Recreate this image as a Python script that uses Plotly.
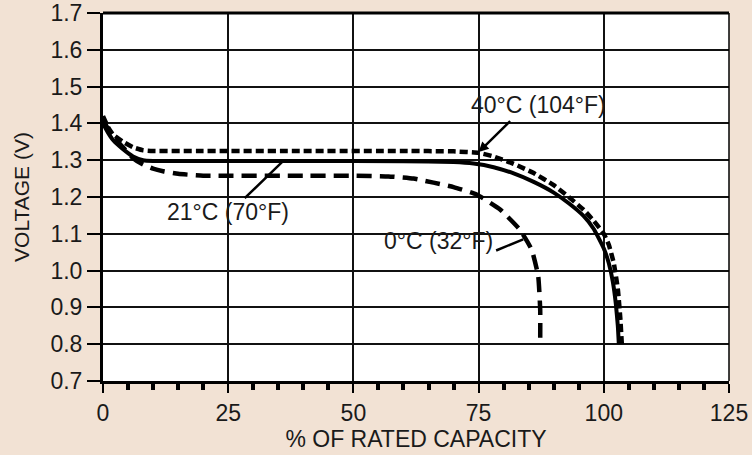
import plotly.graph_objects as go

# ---- data ----
x_40c = [0, 1, 2, 4, 6, 8, 10, 20, 40, 60, 70, 75, 78, 82, 86, 90, 93, 96, 98, 100, 101, 102, 102.8, 103.3, 103.6]
v_40c = [1.42, 1.39, 1.37, 1.35, 1.335, 1.327, 1.325, 1.325, 1.325, 1.325, 1.324, 1.32, 1.31, 1.29, 1.265,
         1.232, 1.2, 1.165, 1.135, 1.1, 1.07, 1.02, 0.95, 0.87, 0.80]

x_21c = [0, 1, 2, 4, 6, 8, 10, 20, 40, 60, 70, 74, 78, 82, 86, 90, 93, 96, 98, 100, 101, 101.8, 102.4, 102.8, 103]
v_21c = [1.40, 1.375, 1.355, 1.33, 1.31, 1.30, 1.298, 1.298, 1.298, 1.297, 1.295, 1.291, 1.281, 1.264, 1.241,
         1.212, 1.183, 1.148, 1.113, 1.06, 1.02, 0.97, 0.91, 0.85, 0.80]

x_0c = [0, 1, 2, 4, 6, 8, 10, 12, 15, 20, 40, 50, 57, 62, 66, 70, 74.6, 79.3, 83.2, 85.6, 86.9, 87.3, 87.3]
v_0c = [1.41, 1.385, 1.365, 1.335, 1.305, 1.288, 1.277, 1.27, 1.263, 1.258, 1.258, 1.258, 1.256, 1.25,
        1.239, 1.227, 1.207, 1.166, 1.112, 1.057, 0.985, 0.894, 0.80]

labels = ["40°C (104°F)", "21°C (70°F)", "0°C (32°F)"]

FONT = "Liberation Sans, Arial, sans-serif"
INK = "#1a1a1a"
BG = "#F2E2D4"

fig = go.Figure()
fig.add_trace(go.Scatter(x=x_40c, y=v_40c, mode="lines", name=labels[0],
                         line=dict(color="black", width=4.5, dash="8px,4px", shape="spline", smoothing=0.4)))
fig.add_trace(go.Scatter(x=x_21c, y=v_21c, mode="lines", name=labels[1],
                         line=dict(color="black", width=4, shape="spline", smoothing=0.4)))
fig.add_trace(go.Scatter(x=x_0c, y=v_0c, mode="lines", name=labels[2],
                         line=dict(color="black", width=4.5, dash="15px,8px", shape="spline", smoothing=0.4)))
# invisible trace so the minor-tick overlay axis is drawn
fig.add_trace(go.Scatter(x=[0], y=[0.7], xaxis="x2", mode="markers", marker=dict(opacity=0),
                         hoverinfo="skip", showlegend=False))

# leader lines (empty-text arrows) and labels
leaders = [
    dict(x=75, y=1.322, ax=81.6, ay=1.41, head=2),
    dict(x=36, y=1.298, ax=28, ay=1.193, head=0),
    dict(x=83.9, y=1.085, ax=78.2, ay=1.053, head=0),
]
for ld in leaders:
    fig.add_annotation(x=ld["x"], y=ld["y"], ax=ld["ax"], ay=ld["ay"], axref="x", ayref="y",
                       text="", showarrow=True, arrowhead=ld["head"], arrowsize=0.8,
                       arrowwidth=2.5, arrowcolor="black")

label_pos = [(87, 1.45), (25, 1.16), (67, 1.08)]
for t, (lx, ly) in zip(labels, label_pos):
    fig.add_annotation(x=lx, y=ly, text=t, showarrow=False,
                       font=dict(family=FONT, size=23, color=INK), bgcolor="rgba(0,0,0,0)")

# frame: top and right borders
fig.add_shape(type="line", xref="paper", yref="paper", x0=0, x1=1, y0=1, y1=1,
              line=dict(color="black", width=3))
fig.add_shape(type="line", xref="paper", yref="paper", x0=1, x1=1, y0=0, y1=1,
              line=dict(color="black", width=1.5))

fig.update_layout(
    width=752, height=455,
    margin=dict(l=103, r=23, t=13, b=74),
    paper_bgcolor=BG, plot_bgcolor="white",
    showlegend=False,
    font=dict(family=FONT, size=23, color=INK),
    xaxis=dict(
        range=[0, 125], tickmode="linear", tick0=0, dtick=25,
        showgrid=True, gridcolor="#111", gridwidth=1.8,
        showline=True, linecolor="black", linewidth=3,
        ticks="outside", ticklen=9, tickwidth=1.5, tickcolor="black",
        zeroline=False, automargin=False,
        title=dict(text="% OF RATED CAPACITY", font=dict(size=23), standoff=4),
        tickfont=dict(size=23),
    ),
    xaxis2=dict(
        range=[0, 125], overlaying="x", side="bottom", anchor="y",
        tickmode="array", tickvals=[v for v in range(5, 125, 5) if v % 25 != 0],
        showticklabels=False, showgrid=False, zeroline=False, showline=False,
        ticks="outside", ticklen=8, tickwidth=3.5, tickcolor="black", automargin=False,
    ),
    yaxis=dict(
        range=[0.7, 1.7], tickmode="linear", tick0=0.7, dtick=0.1, tickformat=".1f",
        showgrid=True, gridcolor="#111", gridwidth=1.8,
        showline=True, linecolor="black", linewidth=3,
        ticks="outside", ticklen=13, tickwidth=2, tickcolor="black",
        zeroline=False, automargin=False,
        title=dict(text="VOLTAGE (V)", font=dict(size=21), standoff=16),
        tickfont=dict(size=23),
    ),
)

fig.write_html("out.html", config={"displayModeBar": False},
               post_script="document.body.style.margin='0';document.body.style.padding='0';")
